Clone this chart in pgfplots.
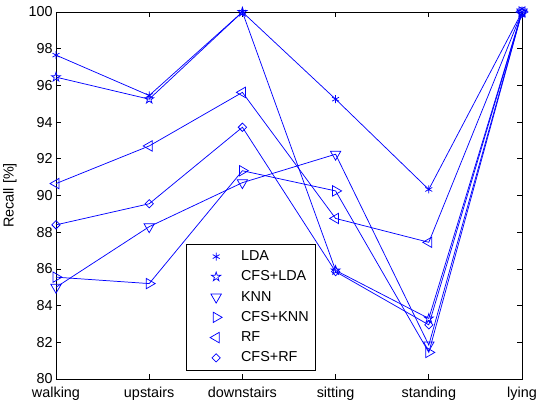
\documentclass[border=0pt]{standalone}
\usepackage{pgfplots}
\pgfplotsset{compat=1.18}
\usepackage{fontspec}
\setmainfont{Liberation Sans}
\usetikzlibrary{plotmarks}
\pgfdeclareplotmark{pentagram}{%
  \pgfpathmoveto{\pgfpointpolar{90}{\pgfplotmarksize}}%
  \pgfpathlineto{\pgfpointpolar{126}{0.382\pgfplotmarksize}}%
  \pgfpathlineto{\pgfpointpolar{162}{\pgfplotmarksize}}%
  \pgfpathlineto{\pgfpointpolar{198}{0.382\pgfplotmarksize}}%
  \pgfpathlineto{\pgfpointpolar{234}{\pgfplotmarksize}}%
  \pgfpathlineto{\pgfpointpolar{270}{0.382\pgfplotmarksize}}%
  \pgfpathlineto{\pgfpointpolar{306}{\pgfplotmarksize}}%
  \pgfpathlineto{\pgfpointpolar{342}{0.382\pgfplotmarksize}}%
  \pgfpathlineto{\pgfpointpolar{18}{\pgfplotmarksize}}%
  \pgfpathlineto{\pgfpointpolar{54}{0.382\pgfplotmarksize}}%
  \pgfpathclose\pgfusepathqstroke}
\definecolor{mblue}{RGB}{0,0,255}
\begin{document}
\begin{tikzpicture}
\useasboundingbox (-42pt,-15.75pt) rectangle (362.25pt,284.25pt);
\begin{axis}[
  scale only axis,
  width=349.5pt, height=275.25pt,
  xmin=0, xmax=5, ymin=80, ymax=100,
  xtick={0,1,2,3,4,5},
  xticklabels={walking,upstairs,downstairs,sitting,standing,lying},
  ytick={80,82,...,100},
  tick align=inside,
  major tick length=4pt,
  axis line style={black, line width=0.6pt},
  every tick/.style={black, line width=0.5pt},
  tick label style={font=\fontsize{10.8}{12}\selectfont},
  /pgf/number format/assume math mode=true,
  xticklabel style={yshift=-2.5pt},
  yticklabel style={xshift=1pt},
  ylabel={Recall [\%]},
  ylabel style={at={(axis description cs:-0.099,0.5)}, anchor=center, font=\fontsize{10.8}{12}\selectfont},
  legend cell align=left,
  legend style={at={(0.279,0.022)}, anchor=south west, draw=black, line width=0.6pt,
    font=\fontsize{10.8}{12}\selectfont, row sep=2.2pt, inner sep=3pt},
  legend image code/.code={\path[draw=none] (0pt,0pt) -- (36pt,0pt); \draw[only marks,#1] plot coordinates {(19.3pt,0pt)};},
  every axis plot/.append style={mblue, line width=0.55pt, mark options={solid, line width=0.55pt}},
]
\addplot[mark=asterisk, mark size=3pt] coordinates {(0,97.65) (1,95.45) (2,100) (3,95.25) (4,90.33) (5,100)};
\addlegendentry{LDA}
\addplot[mark=pentagram, mark size=3.6pt] coordinates {(0,96.45) (1,95.25) (2,100) (3,85.92) (4,83.3) (5,100)};
\addlegendentry{CFS+LDA}
\addplot[mark=triangle, mark size=4.5pt, mark options={rotate=180}] coordinates {(0,85.0) (1,88.3) (2,90.7) (3,92.25) (4,81.85) (5,100)};
\addlegendentry{KNN}
\addplot[mark=triangle, mark size=4.5pt, mark options={rotate=-90}] coordinates {(0,85.55) (1,85.2) (2,91.35) (3,90.25) (4,81.45) (5,100)};
\addlegendentry{CFS+KNN}
\addplot[mark=triangle, mark size=4.5pt, mark options={rotate=90}] coordinates {(0,90.65) (1,92.7) (2,95.62) (3,88.75) (4,87.45) (5,100)};
\addlegendentry{RF}
\addplot[mark=square, mark size=2.2pt, mark options={rotate=45}] coordinates {(0,88.4) (1,89.55) (2,93.72) (3,85.85) (4,82.95) (5,100)};
\addlegendentry{CFS+RF}
\end{axis}
\end{tikzpicture}
\end{document}
